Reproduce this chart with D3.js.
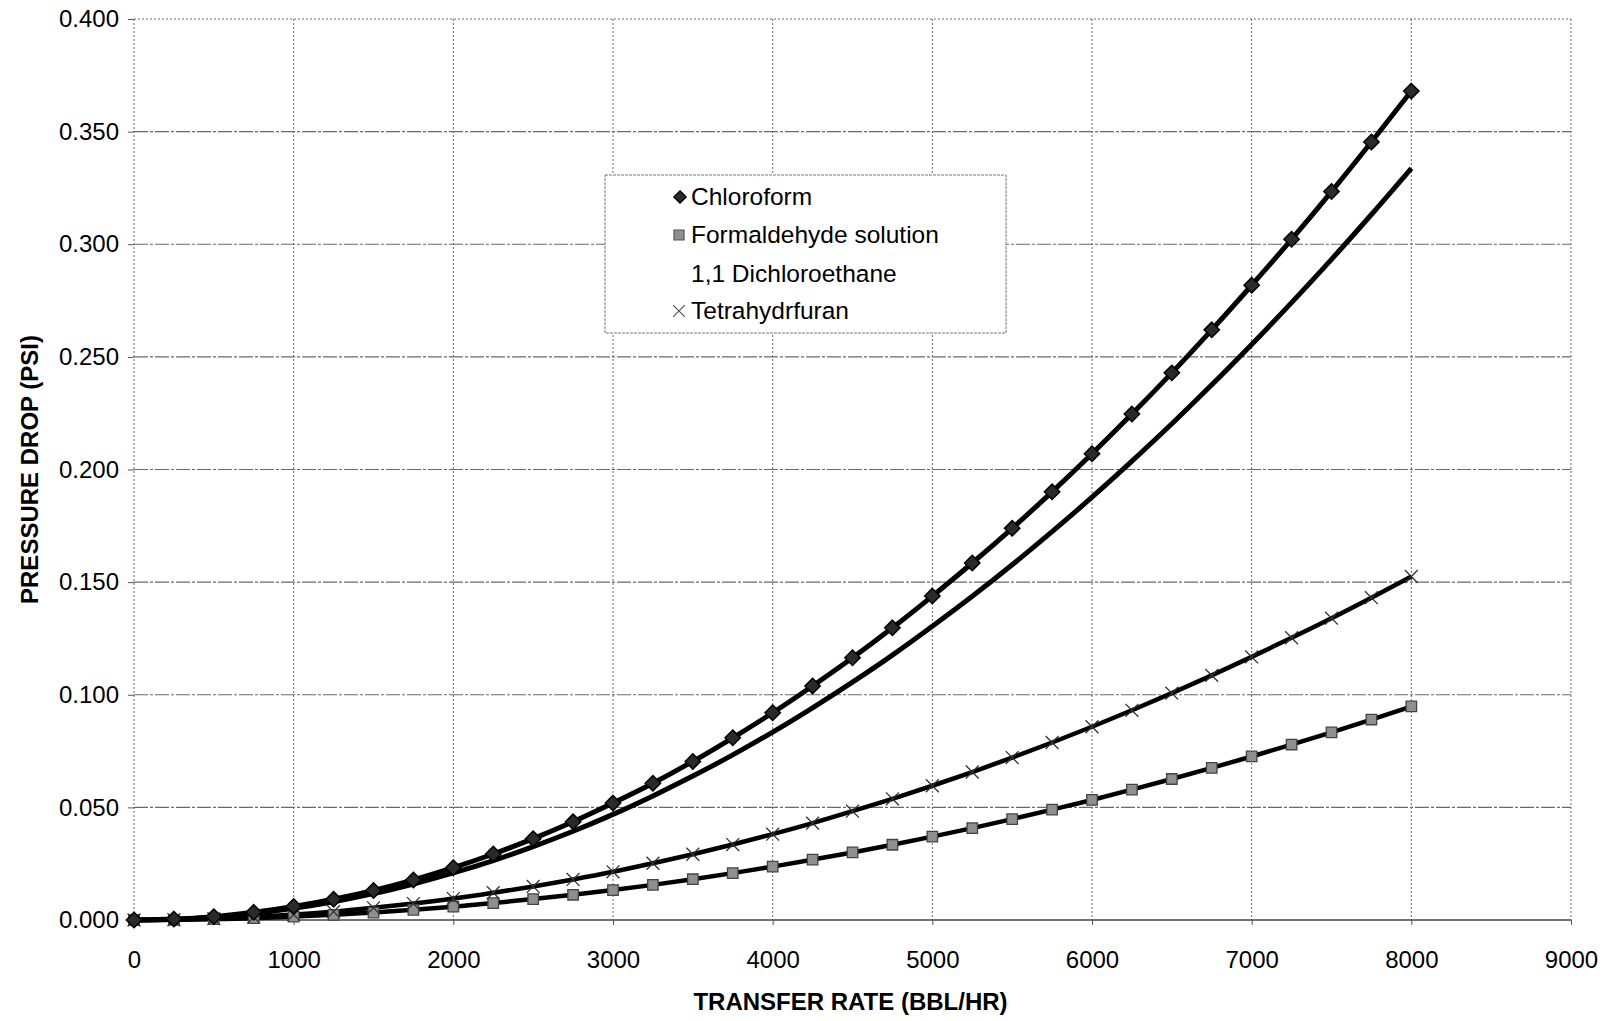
<!DOCTYPE html>
<html>
<head>
<meta charset="utf-8">
<script src="https://cdn.jsdelivr.net/npm/d3@7"></script>
<style>
  html, body { margin: 0; padding: 0; background: #fff; }
  svg { display: block; }
  text { font-family: "Liberation Sans", Arial, Helvetica, sans-serif; fill: #000; }
</style>
</head>
<body>
<svg id="chart" width="1608" height="1021"></svg>
<script>
// ---------- DATA ----------
const transferRate = [0,250,500,750,1000,1250,1500,1750,2000,2250,2500,2750,3000,3250,3500,3750,4000,
  4250,4500,4750,5000,5250,5500,5750,6000,6250,6500,6750,7000,7250,7500,7750,8000];

const chloroform = [0,0.0004,0.0015,0.0034,0.0060,0.0092,0.0131,0.0178,0.0232,0.0293,0.0361,0.0436,0.0519,
  0.0607,0.0704,0.0809,0.0920,0.1039,0.1164,0.1297,0.1438,0.1585,0.1739,0.1901,0.2070,0.2246,0.2429,
  0.2620,0.2818,0.3022,0.3234,0.3454,0.3680];

const formaldehyde = [0,0.0001,0.0004,0.0008,0.0015,0.0023,0.0033,0.0045,0.0059,0.0075,0.0093,0.0112,0.0133,
  0.0156,0.0181,0.0208,0.0237,0.0268,0.0300,0.0334,0.0370,0.0408,0.0448,0.0490,0.0533,0.0579,0.0626,
  0.0675,0.0726,0.0779,0.0833,0.0890,0.0948];

const dichloroethane = [0,0.0003,0.0013,0.0029,0.0052,0.0081,0.0117,0.0160,0.0209,0.0264,0.0326,0.0394,0.0469,
  0.0551,0.0639,0.0733,0.0834,0.0942,0.1056,0.1176,0.1304,0.1437,0.1577,0.1724,0.1877,0.2037,0.2203,
  0.2376,0.2555,0.2741,0.2933,0.3132,0.3337];

const tetrahydrofuran = [0,0.0001,0.0006,0.0013,0.0024,0.0037,0.0054,0.0073,0.0095,0.0121,0.0149,0.0180,0.0214,
  0.0252,0.0292,0.0335,0.0381,0.0430,0.0483,0.0538,0.0596,0.0657,0.0721,0.0788,0.0858,0.0931,0.1007,
  0.1086,0.1168,0.1253,0.1340,0.1431,0.1525];

const seriesNames = ["Chloroform", "Formaldehyde solution", "1,1 Dichloroethane", "Tetrahydrfuran"];
const xTicks = [0,1000,2000,3000,4000,5000,6000,7000,8000,9000];
const yTicks = [0,0.05,0.10,0.15,0.20,0.25,0.30,0.35,0.40];
const xTitle = "TRANSFER RATE (BBL/HR)";
const yTitle = "PRESSURE DROP (PSI)";

// ---------- CHART ----------
const svg = d3.select("#chart");
const L = 134, R = 1571, T = 19, B = 920;
const x = d3.scaleLinear().domain([0, 9000]).range([L, R]);
const y = d3.scaleLinear().domain([0, 0.4]).range([B, T]);

// gridlines
const grid = svg.append("g");
grid.selectAll("line.v").data(xTicks).join("line")
  .attr("x1", d => x(d)).attr("x2", d => x(d)).attr("y1", T).attr("y2", B)
  .attr("stroke", "#666").attr("stroke-width", 1).attr("stroke-dasharray", "2,2");
grid.selectAll("line.h").data(yTicks).join("line")
  .attr("x1", L).attr("x2", R).attr("y1", d => y(d)).attr("y2", d => y(d))
  .attr("stroke", d => d === 0 ? "#444" : "#6a6a6a")
  .attr("stroke-width", d => d === 0 ? 1.5 : 1.1)
  .attr("stroke-dasharray", d => (d === 0 ? null : (d === 0.4 ? "2,2" : "14,2,3,2")));

// axes (labels + small ticks)
const fmtY = d3.format(".3f");
const gx = svg.append("g").attr("transform", `translate(0,${B})`)
  .call(d3.axisBottom(x).tickValues(xTicks).tickFormat(d3.format("d")).tickSize(5).tickPadding(26));
const gy = svg.append("g").attr("transform", `translate(${L},0)`)
  .call(d3.axisLeft(y).tickValues(yTicks).tickFormat(fmtY).tickSize(6).tickPadding(9));
[gx, gy].forEach(g => {
  g.select(".domain").remove();
  g.selectAll(".tick line").attr("stroke", "#555");
  g.selectAll(".tick text").style("font-size", "24px").style("font-family", "'Liberation Sans', Arial, sans-serif").attr("fill", "#000");
});

// axis titles
svg.append("text").attr("x", (L + R) / 2 - 2).attr("y", 1010).attr("text-anchor", "middle")
  .style("font-size", "24px").style("font-weight", "bold").text(xTitle);
svg.append("text").attr("transform", `translate(38,${(T + B) / 2}) rotate(-90)`).attr("text-anchor", "middle")
  .style("font-size", "24px").style("font-weight", "bold").text(yTitle);

// lines
const line = vals => d3.line().curve(d3.curveMonotoneX)
  .x((d, i) => x(transferRate[i])).y(d => y(d))(vals);

const plot = svg.append("g");
[
  {v: formaldehyde, w: 4.5},
  {v: tetrahydrofuran, w: 4.5},
  {v: dichloroethane, w: 5},
  {v: chloroform, w: 5}
].forEach(s => {
  plot.append("path").attr("d", line(s.v)).attr("fill", "none")
    .attr("stroke", "#000").attr("stroke-width", s.w).attr("stroke-linejoin", "round");
});

// markers
const diamond = d3.symbol().type(d3.symbolDiamond2).size(150);
const square = d3.symbol().type(d3.symbolSquare).size(110);
const cross = d3.symbol().type(d3.symbolX).size(110);

function drawSquares(g, vals) {
  g.selectAll(null).data(vals).join("path")
    .attr("d", square).attr("transform", (d, i) => `translate(${x(transferRate[i])},${y(d)})`)
    .attr("fill", "#8f8f8f").attr("stroke", "#444").attr("stroke-width", 1.3);
}
function drawCrosses(g, vals) {
  g.selectAll(null).data(vals).join("path")
    .attr("d", cross).attr("transform", (d, i) => `translate(${x(transferRate[i])},${y(d)})`)
    .attr("fill", "none").attr("stroke", "#333").attr("stroke-width", 1.3);
}
function drawDiamonds(g, vals) {
  g.selectAll(null).data(vals).join("path")
    .attr("d", diamond).attr("transform", (d, i) => `translate(${x(transferRate[i])},${y(d)})`)
    .attr("fill", "#2a2a2a").attr("stroke", "#000").attr("stroke-width", 1.5);
}
drawSquares(plot.append("g"), formaldehyde);
drawCrosses(plot.append("g"), tetrahydrofuran);
drawDiamonds(plot.append("g"), chloroform);

// legend
const lg = svg.append("g");
lg.append("rect").attr("x", 605).attr("y", 175).attr("width", 401).attr("height", 158)
  .attr("fill", "#fff").attr("stroke", "#777").attr("stroke-width", 1).attr("stroke-dasharray", "3,1");
const rows = [205, 243, 282, 319];
seriesNames.forEach((name, i) => {
  lg.append("text").attr("x", 691).attr("y", rows[i]).style("font-size", "24.5px").text(name);
});
lg.append("path").attr("d", d3.symbol().type(d3.symbolDiamond2).size(100))
  .attr("transform", `translate(680,${rows[0] - 8})`).attr("fill", "#2a2a2a").attr("stroke", "#000").attr("stroke-width", 1.2);
lg.append("path").attr("d", d3.symbol().type(d3.symbolSquare).size(100))
  .attr("transform", `translate(679,${rows[1] - 8})`).attr("fill", "#8f8f8f").attr("stroke", "#555").attr("stroke-width", 1.2);
lg.append("path").attr("d", d3.symbol().type(d3.symbolX).size(90))
  .attr("transform", `translate(679,${rows[3] - 8})`).attr("fill", "none").attr("stroke", "#555").attr("stroke-width", 1.2);
</script>
</body>
</html>
